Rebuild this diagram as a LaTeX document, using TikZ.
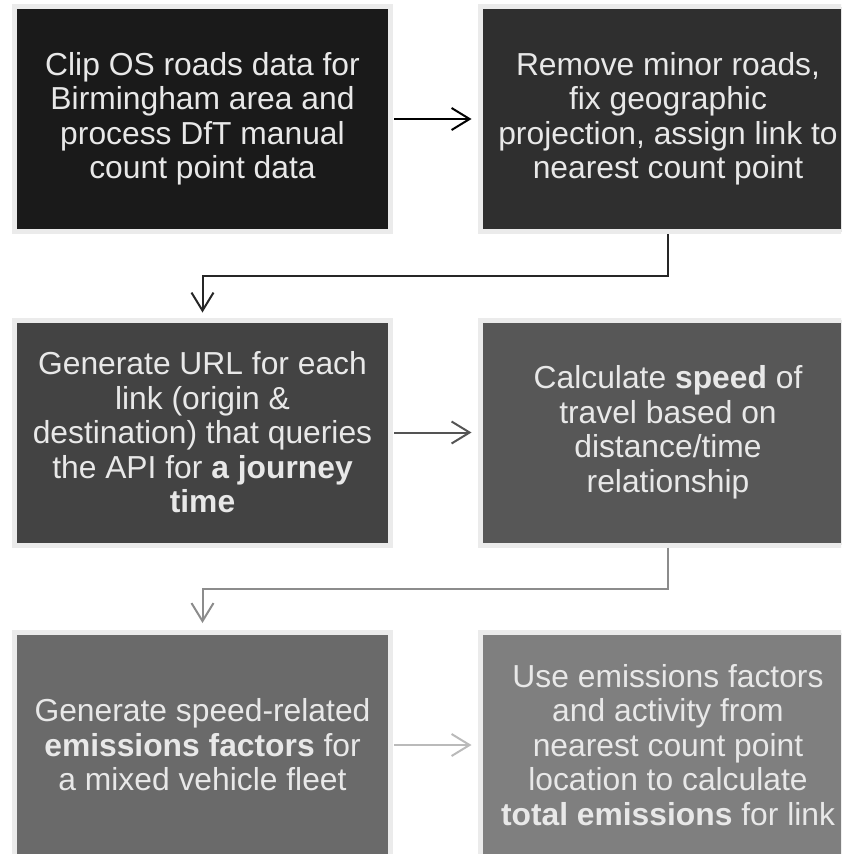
\documentclass[tikz,border=0pt]{standalone}
\usepackage{fontspec}
\setmainfont{Liberation Sans}
\usetikzlibrary{arrows.meta}
\definecolor{fillA}{HTML}{1A1A1A}
\definecolor{fillB}{HTML}{2F2F2F}
\definecolor{fillC}{HTML}{434343}
\definecolor{fillD}{HTML}{575757}
\definecolor{fillE}{HTML}{6A6A6A}
\definecolor{fillF}{HTML}{7F7F7F}
\definecolor{rim}{HTML}{EBEBEB}
\definecolor{txt}{HTML}{E8E8E8}
\tikzset{stage/.style={draw=rim, line width=5pt, minimum width=376pt, minimum height=225pt,
    text=txt, align=center, inner sep=0pt, font=\fontsize{31.8}{34.5}\selectfont},
  link/.style={line width=2pt, -{Straight Barb[length=18pt, width=22pt, line width=2pt]}}}

\begin{document}
\begin{tikzpicture}[x=1pt, y=-1pt]
  \useasboundingbox (0,0) rectangle (841,854);
  \clip (0,0) rectangle (841,854);
  % row 1
  \node[stage, fill=fillA] (clip) at (202.5,119) {Clip OS roads data for\\Birmingham area and\\process DfT manual\\count point data};
  \node[stage, fill=fillB] (clean) at (668,119) {Remove minor roads,\\fix geographic\\projection, assign link to\\nearest count point};
  % row 2
  \node[stage, fill=fillC] (url) at (202.5,432.5) {Generate URL for each\\link (origin \&\\destination) that queries\\the API for \textbf{a journey}\\\textbf{time}};
  \node[stage, fill=fillD] (speed) at (668,432.5) {Calculate \textbf{speed} of\\travel based on\\distance/time\\relationship};
  % row 3
  \node[stage, fill=fillE] (ef) at (202.5,745) {Generate speed-related\\\textbf{emissions factors} for\\a mixed vehicle fleet};
  \node[stage, fill=fillF] (total) at (668,745) {Use emissions factors\\and activity from\\nearest count point\\location to calculate\\\textbf{total emissions} for link};
  % connectors
  \draw[link, black, shorten <=1pt, shorten >=6pt] (clip) -- (clean);
  \draw[link, black!85, shorten >=5pt] (clean.south) -- ++(0,42) -| (url.north);
  \draw[link, black!67, shorten <=1pt, shorten >=6pt] (url) -- (speed);
  \draw[link, black!45, shorten >=7pt] (speed.south) -- ++(0,41) -| (ef.north);
  \draw[link, black!27, shorten <=1pt, shorten >=6pt] (ef) -- (total);
\end{tikzpicture}
\end{document}
